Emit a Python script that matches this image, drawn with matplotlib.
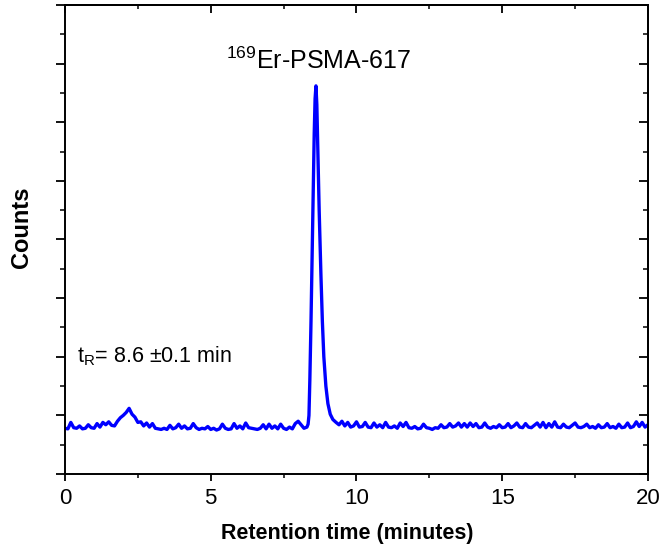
import matplotlib
matplotlib.use("Agg")
import matplotlib.pyplot as plt
from matplotlib.ticker import MultipleLocator, NullFormatter

plt.rcParams['font.family'] = ['Liberation Sans', 'DejaVu Sans']
plt.rcParams['mathtext.fontset'] = 'custom'
plt.rcParams['mathtext.rm'] = 'Liberation Sans'
plt.rcParams['mathtext.it'] = 'Liberation Sans:italic'
plt.rcParams['mathtext.bf'] = 'Liberation Sans:bold'

# ---- data ----
time_pre = [0.0, 0.1, 0.2, 0.3, 0.4, 0.5, 0.6, 0.7, 0.8, 0.9, 1.0,
            1.1, 1.2, 1.3, 1.4, 1.5, 1.6,
            1.7, 1.8, 1.9, 2.0, 2.1, 2.2, 2.3, 2.4, 2.5, 2.6, 2.7,
            2.8, 2.9, 3.0, 3.1, 3.2, 3.3, 3.4, 3.5, 3.6, 3.7, 3.8, 3.9,
            4.0, 4.1, 4.2, 4.3, 4.4, 4.5, 4.6, 4.7, 4.8, 4.9,
            5.0, 5.1, 5.2, 5.3, 5.4, 5.5, 5.6, 5.7, 5.8, 5.9,
            6.0, 6.1, 6.2, 6.3, 6.4, 6.5, 6.6, 6.7, 6.8, 6.9,
            7.0, 7.1, 7.2, 7.3, 7.4, 7.5, 7.6, 7.7, 7.8, 7.9,
            8.0, 8.1, 8.2, 8.3]
counts_pre = [0.78, 0.77, 0.88, 0.79, 0.78, 0.82, 0.77, 0.78, 0.84, 0.79, 0.78,
              0.86, 0.80, 0.88, 0.84, 0.89, 0.83,
              0.82, 0.90, 0.96, 1.00, 1.05, 1.12, 1.02, 0.97, 0.88, 0.89, 0.82,
              0.87, 0.80, 0.86, 0.78, 0.77, 0.76, 0.78, 0.76, 0.83, 0.77, 0.79, 0.85,
              0.78, 0.82, 0.77, 0.78, 0.86, 0.79, 0.76, 0.78, 0.77, 0.81,
              0.76, 0.78, 0.75, 0.77, 0.85, 0.78, 0.76, 0.77, 0.86, 0.78,
              0.82, 0.77, 0.87, 0.79, 0.78, 0.77, 0.76, 0.78, 0.84, 0.77,
              0.85, 0.78, 0.82, 0.77, 0.85, 0.78, 0.76, 0.80, 0.77, 0.86,
              0.90, 0.84, 0.78, 0.80]

time_peak = [8.34, 8.37, 8.40, 8.44, 8.47, 8.51, 8.55, 8.58, 8.61, 8.64,
             8.68, 8.72, 8.78, 8.83, 8.88, 8.95, 9.02, 9.10, 9.19, 9.30, 9.40]
counts_peak = [0.85, 1.00, 1.60, 2.60, 3.50, 4.70, 5.80, 6.40, 6.62, 6.30,
               5.40, 4.50, 3.40, 2.60, 2.00, 1.50, 1.20, 1.02, 0.93, 0.88, 0.84]

time_post = [9.5, 9.6, 9.7, 9.8, 9.9, 10.0, 10.1, 10.2, 10.3, 10.4, 10.5, 10.6, 10.7, 10.8, 10.9,
             11.0, 11.1, 11.2, 11.3, 11.4, 11.5, 11.6, 11.7, 11.8, 11.9,
             12.0, 12.1, 12.2, 12.3, 12.4, 12.5, 12.6, 12.7, 12.8, 12.9,
             13.0, 13.1, 13.2, 13.3, 13.4, 13.5, 13.6, 13.7, 13.8, 13.9,
             14.0, 14.1, 14.2, 14.3, 14.4, 14.5, 14.6, 14.7, 14.8, 14.9,
             15.0, 15.1, 15.2, 15.3, 15.4, 15.5, 15.6, 15.7, 15.8, 15.9,
             16.0, 16.1, 16.2, 16.3, 16.4, 16.5, 16.6, 16.7, 16.8, 16.9,
             17.0, 17.1, 17.2, 17.3, 17.4, 17.5, 17.6, 17.7, 17.8, 17.9,
             18.0, 18.1, 18.2, 18.3, 18.4, 18.5, 18.6, 18.7, 18.8, 18.9,
             19.0, 19.1, 19.2, 19.3, 19.4, 19.5, 19.6, 19.7, 19.8, 19.9, 20.0]
counts_post = [0.90, 0.82, 0.88, 0.80, 0.82, 0.89, 0.80, 0.81, 0.88, 0.80, 0.79, 0.87, 0.80, 0.84, 0.79,
               0.88, 0.80, 0.79, 0.82, 0.78, 0.87, 0.81, 0.88, 0.79, 0.78,
               0.81, 0.77, 0.78, 0.85, 0.79, 0.78, 0.76, 0.79, 0.78, 0.84,
               0.79, 0.80, 0.86, 0.80, 0.82, 0.87, 0.80, 0.86, 0.80, 0.87,
               0.81, 0.86, 0.79, 0.80, 0.87, 0.80, 0.78, 0.81, 0.79, 0.84,
               0.79, 0.80, 0.86, 0.79, 0.82, 0.87, 0.80, 0.79, 0.86, 0.80,
               0.79, 0.83, 0.87, 0.80, 0.88, 0.79, 0.86, 0.80, 0.89, 0.80,
               0.79, 0.85, 0.80, 0.79, 0.83, 0.87, 0.80, 0.79, 0.81, 0.85,
               0.79, 0.81, 0.78, 0.84, 0.79, 0.80, 0.86, 0.79, 0.81, 0.78,
               0.85, 0.79, 0.80, 0.87, 0.79, 0.81, 0.89, 0.81, 0.88, 0.80, 0.84]

x_ticks = [0, 5, 10, 15, 20]
x_tick_labels = ["0", "5", "10", "15", "20"]
x_label = "Retention time (minutes)"
y_label = "Counts"
peak_label = r"$^{169}$Er-PSMA-617"
tr_label = r"t$_\mathregular{R}$= 8.6 ±0.1 min"

time_min = time_pre + time_peak + time_post
counts = counts_pre + counts_peak + counts_post

# ---- figure ----
fig = plt.figure(figsize=(6.61, 5.54), dpi=100)
ax = fig.add_axes([0.0983, 0.1444, 0.882, 0.8466])

ax.plot(time_min, counts, color="#0000FF", lw=2.4, solid_joinstyle="round")

ax.set_xlim(0, 20)
ax.set_ylim(0, 8)
ax.set_xticks(x_ticks)
ax.set_xticklabels(x_tick_labels)
ax.xaxis.set_minor_locator(MultipleLocator(2.5))
ax.yaxis.set_major_locator(MultipleLocator(1))
ax.yaxis.set_minor_locator(MultipleLocator(0.5))
ax.yaxis.set_major_formatter(NullFormatter())

for s in ax.spines.values():
    s.set_linewidth(1.4)

ax.tick_params(axis="x", which="major", direction="out", length=5, width=1.3,
               labelsize=16, pad=5, top=False)
ax.tick_params(axis="x", which="minor", direction="out", length=3, width=1.1, top=False)
ax.tick_params(axis="y", which="major", direction="out", length=6.5, width=1.3, right=False)
ax.tick_params(axis="y", which="minor", direction="out", length=3.5, width=1.1, right=False)

# inward ticks on top and right
sec_x = ax.secondary_xaxis("top")
sec_x.set_xticks(x_ticks)
sec_x.xaxis.set_minor_locator(MultipleLocator(2.5))
sec_x.tick_params(axis="x", which="major", direction="in", length=5.5, width=1.3, labeltop=False)
sec_x.tick_params(axis="x", which="minor", direction="in", length=3, width=1.1)
sec_x.spines["top"].set_linewidth(1.4)

sec_y = ax.secondary_yaxis("right")
sec_y.yaxis.set_major_locator(MultipleLocator(1))
sec_y.yaxis.set_minor_locator(MultipleLocator(0.5))
sec_y.tick_params(axis="y", which="major", direction="in", length=6.5, width=1.3, labelright=False)
sec_y.tick_params(axis="y", which="minor", direction="in", length=3.5, width=1.1)
sec_y.spines["right"].set_linewidth(1.4)

ax.set_xlabel(x_label, fontsize=15.5, fontweight="bold", labelpad=10)
ax.xaxis.set_label_coords(0.485, -0.105)
ax.set_ylabel(y_label, fontsize=17, fontweight="bold")
ax.yaxis.set_label_coords(-0.055, 0.527)

ax.text(5.52, 6.91, peak_label, fontsize=18, ha="left", va="baseline")
ax.text(0.41, 1.91, tr_label, fontsize=15.5, ha="left", va="baseline")

fig.savefig("out.png", dpi=100)
